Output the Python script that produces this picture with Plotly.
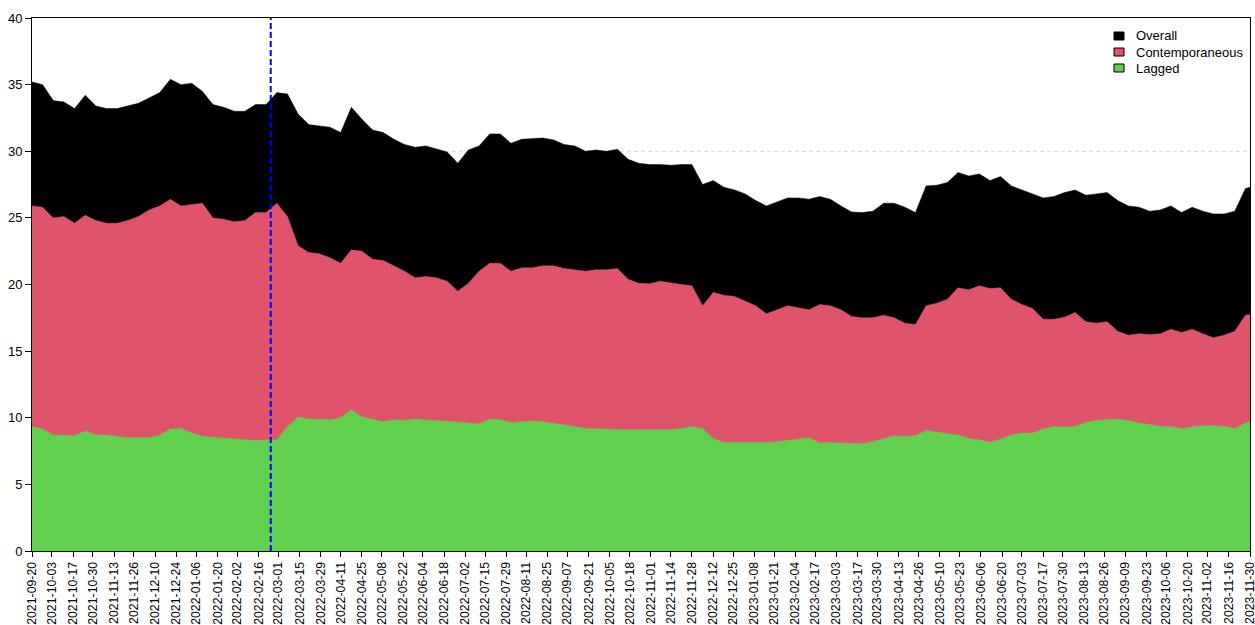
import pandas as pd
import plotly.graph_objects as go

# weekly readings from 2021-09-20, plus the last day of the sample
dates = list(pd.date_range("2021-09-20", periods=115, freq="7D").strftime("%Y-%m-%d")) + ["2023-11-30"]

overall = [35.2, 35.0, 33.8, 33.7, 33.2, 34.2, 33.4, 33.2, 33.2, 33.4,
           33.6, 34.0, 34.4, 35.4, 35.0, 35.1, 34.5, 33.5, 33.3, 33.0,
           33.0, 33.5, 33.5, 34.4, 34.3, 32.8, 32.0, 31.9, 31.8, 31.4,
           33.3, 32.4, 31.6, 31.4, 30.9, 30.5, 30.3, 30.4, 30.2, 29.95,
           29.1, 30.1, 30.4, 31.3, 31.3, 30.6, 30.9, 30.95, 31.0, 30.85,
           30.5, 30.4, 30.0, 30.1, 30.0, 30.15, 29.4, 29.1, 29.0, 29.0,
           28.95, 29.0, 29.0, 27.5, 27.8, 27.3, 27.1, 26.8, 26.3, 25.9,
           26.2, 26.5, 26.5, 26.4, 26.6, 26.4, 25.9, 25.45, 25.4, 25.5,
           26.1, 26.1, 25.8, 25.4, 27.4, 27.45, 27.65, 28.4, 28.15, 28.3,
           27.8, 28.1, 27.4, 27.1, 26.8, 26.5, 26.6, 26.9, 27.1, 26.7,
           26.8, 26.9, 26.3, 25.9, 25.8, 25.5, 25.6, 25.9, 25.4, 25.8,
           25.5, 25.3, 25.3, 25.5, 27.2, 27.3]

contemporaneous = [25.9, 25.8, 25.0, 25.1, 24.6, 25.2, 24.8, 24.6, 24.6, 24.8,
                   25.1, 25.6, 25.9, 26.4, 25.9, 26.0, 26.1, 25.0, 24.9, 24.7,
                   24.8, 25.4, 25.4, 26.1, 25.1, 22.9, 22.4, 22.3, 22.0, 21.6,
                   22.6, 22.5, 21.9, 21.8, 21.4, 21.0, 20.5, 20.6, 20.5, 20.25,
                   19.5, 20.1, 21.0, 21.6, 21.6, 21.0, 21.25, 21.25, 21.4, 21.4,
                   21.2, 21.1, 21.0, 21.1, 21.1, 21.2, 20.4, 20.1, 20.05, 20.25,
                   20.1, 20.0, 19.9, 18.4, 19.4, 19.2, 19.1, 18.75, 18.4, 17.8,
                   18.1, 18.4, 18.25, 18.1, 18.5, 18.4, 18.1, 17.6, 17.5, 17.5,
                   17.7, 17.5, 17.1, 17.0, 18.4, 18.6, 18.9, 19.75, 19.6, 19.9,
                   19.7, 19.75, 18.9, 18.5, 18.2, 17.4, 17.4, 17.55, 17.9, 17.2,
                   17.1, 17.2, 16.5, 16.2, 16.3, 16.25, 16.3, 16.65, 16.4, 16.65,
                   16.3, 16.0, 16.2, 16.5, 17.7, 17.75]

lagged = [9.35, 9.15, 8.7, 8.7, 8.65, 9.0, 8.7, 8.7, 8.6, 8.5,
          8.5, 8.5, 8.7, 9.15, 9.2, 8.85, 8.6, 8.55, 8.5, 8.45,
          8.35, 8.3, 8.35, 8.35, 9.35, 10.05, 9.9, 9.85, 9.85, 10.0,
          10.6, 10.05, 9.85, 9.7, 9.85, 9.8, 9.9, 9.85, 9.75, 9.7,
          9.65, 9.6, 9.55, 9.9, 9.85, 9.65, 9.7, 9.75, 9.7, 9.6,
          9.5, 9.35, 9.2, 9.2, 9.15, 9.1, 9.1, 9.05, 9.05, 9.05,
          9.1, 9.2, 9.35, 9.2, 8.45, 8.15, 8.15, 8.1, 8.1, 8.15,
          8.2, 8.3, 8.45, 8.5, 8.1, 8.15, 8.1, 8.05, 8.05, 8.2,
          8.45, 8.65, 8.6, 8.65, 9.05, 8.9, 8.8, 8.7, 8.45, 8.35,
          8.15, 8.4, 8.7, 8.85, 8.85, 9.15, 9.35, 9.3, 9.35, 9.65,
          9.8, 9.85, 9.9, 9.8, 9.6, 9.5, 9.35, 9.35, 9.2, 9.3,
          9.4, 9.4, 9.35, 9.2, 9.6, 9.7]

tick_labels = ["2021-09-20", "2021-10-03", "2021-10-17", "2021-10-30", "2021-11-13", "2021-11-26",
               "2021-12-10", "2021-12-24", "2022-01-06", "2022-01-20", "2022-02-02", "2022-02-16",
               "2022-03-01", "2022-03-15", "2022-03-29", "2022-04-11", "2022-04-25", "2022-05-08",
               "2022-05-22", "2022-06-04", "2022-06-18", "2022-07-02", "2022-07-15", "2022-07-29",
               "2022-08-11", "2022-08-25", "2022-09-07", "2022-09-21", "2022-10-05", "2022-10-18",
               "2022-11-01", "2022-11-14", "2022-11-28", "2022-12-12", "2022-12-25", "2023-01-08",
               "2023-01-21", "2023-02-04", "2023-02-17", "2023-03-03", "2023-03-17", "2023-03-30",
               "2023-04-13", "2023-04-26", "2023-05-10", "2023-05-23", "2023-06-06", "2023-06-20",
               "2023-07-03", "2023-07-17", "2023-07-30", "2023-08-13", "2023-08-26", "2023-09-09",
               "2023-09-23", "2023-10-06", "2023-10-20", "2023-11-02", "2023-11-16", "2023-11-30"]

event_date = "2022-02-24"

series = [("Overall", overall, "#000000"),
          ("Contemporaneous", contemporaneous, "#DF536B"),
          ("Lagged", lagged, "#61D04F")]

W, H = 1255, 625
ML, MR, MT, MB = 32, 5, 18, 74
PW, PH = W - ML - MR, H - MT - MB

fig = go.Figure()
for name, vals, col in series:
  fig.add_trace(go.Scatter(x=dates, y=vals, mode="lines", fill="tozeroy", name=name,
                           fillcolor=col, line=dict(color=col, width=0.5),
                           showlegend=False, hoverinfo="skip"))

fig.add_shape(type="line", x0=dates[0], x1=dates[-1], y0=30, y1=30, xref="x", yref="y",
              line=dict(color="#d3d3d3", width=1, dash="4px,3px"), layer="below")
fig.add_shape(type="line", x0=event_date, x1=event_date, y0=0, y1=40, xref="x", yref="y",
              line=dict(color="blue", width=2, dash="6px,3px"))

# legend drawn as boxes + labels (R style, no frame)
for i, (name, vals, col) in enumerate(series):
  yc = 36 + 16 * i
  py = (H - MB - yc) / PH
  fig.add_shape(type="rect", xref="paper", yref="paper",
                x0=(1114 - ML) / PW, x1=(1124 - ML) / PW,
                y0=py - 4 / PH, y1=py + 4 / PH,
                fillcolor=col, line=dict(color="black", width=1))
  fig.add_annotation(x=(1134 - ML) / PW, y=py, xref="paper", yref="paper",
                     text=name, showarrow=False, xanchor="left", yanchor="middle",
                     font=dict(size=13, color="black"))

fig.update_layout(width=W, height=H, plot_bgcolor="white", paper_bgcolor="white",
                  margin=dict(l=ML, r=MR, t=MT, b=MB), showlegend=False,
                  font=dict(family="Liberation Sans, Arial", size=13, color="black"))
fig.update_xaxes(range=[dates[0], dates[-1]], tickvals=tick_labels, ticktext=tick_labels,
                 tickangle=-90, tickfont=dict(size=12.3), ticks="outside", ticklen=5,
                 tickcolor="black", showline=True, linecolor="black", linewidth=1,
                 mirror=True, showgrid=False, zeroline=False, automargin=False,
                 ticklabeloverflow="allow")
fig.update_yaxes(range=[0, 40], dtick=5, ticks="outside", ticklen=6, tickcolor="black",
                 showline=True, linecolor="black", linewidth=1, mirror=True,
                 showgrid=False, zeroline=False, tickfont=dict(size=13), automargin=False)

# page body has a default margin; drop it so the figure fills the window
fig.write_html("out.html", config={"displayModeBar": False},
               post_script="document.body.style.margin='0';")
